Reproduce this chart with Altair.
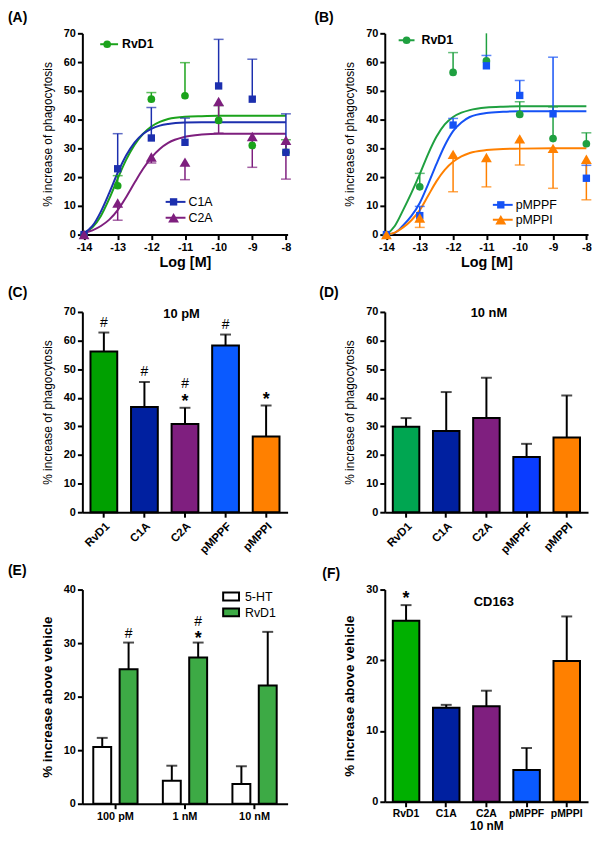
import altair as alt
import pandas as pd

FONT = "Liberation Sans"

# ---------------- Panels A and B : concentration-response ----------------
log_m = [-14, -13, -12, -11, -10, -9, -8]
fit_x = [-14, -13.75, -13.5, -13.25, -13, -12.75, -12.5, -12.25, -12,
         -11.75, -11.5, -11, -10.5, -10, -9, -8]

a_series = ["RvD1", "C1A", "C2A"]
a_colors = ["#1BA31B", "#1C2FAE", "#7E1F7E"]
a_shapes = ["circle", "square", "triangle-up"]
marker_sizes = [60, 55, 120]
a_dirs = [1, 1, -1]
a_rvd1 = [0, 17.0, 47.1, 48.3, 39.7, 31.0, 28.6]
a_rvd1_sem = [0, 3.5, 2.3, 11.5, 5.2, 0, 4.4]
a_c1a = [0, 22.9, 33.6, 32.1, 51.7, 47.1, 28.6]
a_c1a_sem = [0, 12.2, 10.6, 8.4, 16.2, 13.9, 13.4]
a_c2a = [0, 11.0, 27.0, 25.2, 46.3, 34.1, 32.8]
a_c2a_sem = [0, 6.0, 2.1, 6.1, 11.0, 10.7, 13.5]
a_fit_rvd1 = [0.5, 2.5, 6.5, 12.5, 19.5, 26, 31.2, 35, 37.6, 39.2, 40.2, 41, 41.2, 41.3, 41.3, 41.3]
a_fit_c1a = [0.5, 3, 8, 14.5, 21.5, 27.5, 32, 35, 36.8, 37.9, 38.5, 39, 39.1, 39.1, 39.1, 39.1]
a_fit_c2a = [0.5, 1.5, 3, 5.2, 8.5, 13, 18, 22.8, 26.8, 29.8, 31.9, 34, 34.8, 35.1, 35.1, 35.1]

b_series = ["RvD1", "pMPPF", "pMPPI"]
b_colors = ["#1FA040", "#1552F5", "#FF8000"]
b_shapes = ["circle", "square", "triangle-up"]
b_dirs = [1, 1, -1]
b_rvd1 = [0, 16.6, 56.4, 60.4, 41.8, 33.4, 31.6]
b_rvd1_sem = [0, 4.7, 6.9, 11.0, 4.4, 11.0, 3.8]
b_pmppf = [0, 6.6, 38.1, 58.7, 48.4, 42.0, 19.6]
b_pmppf_sem = [0, 3.2, 2.3, 3.6, 5.2, 19.7, 4.5]
b_pmppi = [0, 5.8, 27.9, 26.8, 33.3, 30.0, 26.2]
b_pmppi_sem = [0, 3.3, 13.0, 10.2, 9.1, 13.9, 14.1]
b_fit_rvd1 = [0, 3, 8.5, 14.5, 21, 28, 34, 38.3, 40.9, 42.4, 43.3, 44.2, 44.5, 44.6, 44.6, 44.6]
b_fit_pmppf = [0, 0.6, 3.2, 6.5, 11, 17.5, 24.5, 31, 36, 39, 40.9, 42.3, 42.7, 42.9, 42.9, 42.9]
b_fit_pmppi = [0, 0.7, 2.5, 5, 8.5, 13.5, 18.5, 22.5, 25.3, 27.2, 28.4, 29.4, 29.8, 29.9, 30, 30]

# ---------------- Panels C, D, F : single bars ----------------
agents = ["RvD1", "C1A", "C2A", "pMPPF", "pMPPI"]
c_colors = ["#00A000", "#0020A0", "#7F1F7F", "#0A5AFF", "#FF8000"]
d_colors = ["#00A651", "#0020A0", "#7F1F7F", "#0A3CFF", "#FF8000"]
f_colors = ["#00B000", "#0020A0", "#7F1F7F", "#0A5AFF", "#FF8000"]

c_vals = [56.2, 36.8, 30.8, 58.3, 26.5]
c_sem = [6.6, 8.7, 5.7, 3.8, 10.8]
c_hash = [1, 1, 1, 1, 0]
c_star = [0, 0, 1, 0, 1]

d_vals = [29.9, 28.4, 32.9, 19.3, 26.1]
d_sem = [3.0, 13.6, 14.1, 4.6, 14.7]
d_hash = [0, 0, 0, 0, 0]
d_star = [0, 0, 0, 0, 0]

f_vals = [25.6, 13.3, 13.5, 4.5, 19.9]
f_sem = [2.2, 0.4, 2.2, 3.1, 6.3]
f_hash = [0, 0, 0, 0, 0]
f_star = [1, 0, 0, 0, 0]

# ---------------- Panel E : grouped bars ----------------
e_conc = ["100 pM", "1 nM", "10 nM"]
e_series = ["5-HT", "RvD1"]
e_colors = ["#FFFFFF", "#3DAA45"]
e_5ht = [10.6, 4.3, 3.7]
e_5ht_sem = [1.7, 2.8, 3.3]
e_rvd1 = [25.1, 27.3, 22.1]
e_rvd1_sem = [5.0, 2.8, 10.0]
e_rvd1_hash = [1, 1, 0]
e_rvd1_star = [0, 1, 0]

ONE = pd.DataFrame({"k": [0]})


def std_axis(**kw):
    d = dict(domainColor="black", domainWidth=2, tickColor="black", tickWidth=2,
             tickSize=5, labelColor="black", labelFont=FONT, labelFontWeight="bold",
             labelFontSize=11, labelPadding=2, titleFont=FONT, titleColor="black",
             grid=False)
    d.update(kw)
    return alt.Axis(**d)


def text_at(txt, x, y, size, weight="bold", align="left", baseline="top"):
    return alt.Chart(ONE).mark_text(
        text=txt, font=FONT, fontSize=size, fontWeight=weight, align=align,
        baseline=baseline, color="black").encode(x=alt.value(x), y=alt.value(y))


def dose_panel(key, tag, tag_x, tag_y, series, colors, shapes, vals, sems, dirs, fits,
               legend, width, height):
    pts = pd.DataFrame([{key: s, "x": x, "y": v, "sem": e, "yend": v + d * e}
                        for s, vv, ee, d in zip(series, vals, sems, dirs)
                        for x, v, e in zip(log_m, vv, ee)])
    fit = pd.DataFrame([{key: s, "x": x, "y": v}
                        for s, ff in zip(series, fits) for x, v in zip(fit_x, ff)])
    xs = alt.Scale(domain=[-14.05, -7.95], nice=False, zero=False)
    ys = alt.Scale(domain=[0, 70], nice=False, clamp=True)
    xax = std_axis(values=log_m, labelExpr="'' + datum.value", title="Log [M]",
                   titleFontSize=14.5, titleFontWeight="bold", titlePadding=3)
    yax = std_axis(values=list(range(0, 71, 10)), title="% increase of phagocytosis",
                   titleFontSize=12, titleFontWeight="normal", titlePadding=9)
    X = alt.X("x:Q", scale=xs, axis=xax)

    def Y(f):
        return alt.Y(f + ":Q", scale=ys, axis=yax)

    color = alt.Color(key + ":N", scale=alt.Scale(domain=series, range=colors), legend=None)
    shape = alt.Shape(key + ":N", scale=alt.Scale(domain=series, range=shapes), legend=None)
    size = alt.Size(key + ":N", scale=alt.Scale(type="ordinal", domain=series,
                                                range=marker_sizes), legend=None)
    curves = alt.Chart(fit).mark_line(strokeWidth=2, interpolate="monotone").encode(
        x=X, y=Y("y"), color=color)
    errs = alt.Chart(pts).transform_filter("datum.sem > 0").mark_rule(strokeWidth=1.5).encode(
        x=X, y=Y("y"), y2="yend:Q", color=color)
    caps = alt.Chart(pts).transform_filter("datum.sem > 0 && datum.yend <= 70").mark_tick(
        orient="horizontal", size=10, thickness=1.5).encode(x=X, y=Y("yend"), color=color)
    marks = alt.Chart(pts).mark_point(filled=True, opacity=1).encode(
        x=X, y=Y("y"), color=color, shape=shape, size=size)
    leg = []
    for name, col, shp, msize, x1, x2, xm, xt, yy, bold in legend:
        leg.append(alt.Chart(ONE).mark_rule(color=col, strokeWidth=2).encode(
            x=alt.value(x1), x2=alt.value(x2), y=alt.value(yy)))
        leg.append(alt.Chart(ONE).mark_point(shape=shp, filled=True, opacity=1, size=msize,
                                             color=col).encode(x=alt.value(xm), y=alt.value(yy)))
        leg.append(text_at(name, xt, yy, 12.5, "bold" if bold else "normal", "left", "middle"))
    tagm = text_at(tag, tag_x, tag_y, 14)
    return alt.layer(curves, errs, caps, marks, *leg, tagm).properties(width=width, height=height)


def annotation_layers(df, X, Y, extra, hash_dy, hash_star_dy, star_dy):
    star = alt.Chart(df).transform_filter("datum.star == 1").mark_text(
        text="*", font=FONT, fontSize=18, fontWeight="bold", baseline="alphabetic",
        dy=star_dy, color="black").encode(x=X, y=Y("cap"), **extra)
    hash1 = alt.Chart(df).transform_filter("datum.hash == 1 && datum.star == 0").mark_text(
        text="#", font=FONT, fontSize=14, baseline="alphabetic", dy=hash_dy,
        color="black").encode(x=X, y=Y("cap"), **extra)
    hash2 = alt.Chart(df).transform_filter("datum.hash == 1 && datum.star == 1").mark_text(
        text="#", font=FONT, fontSize=14, baseline="alphabetic", dy=hash_star_dy,
        color="black").encode(x=X, y=Y("cap"), **extra)
    return [star, hash1, hash2]


def bar_panel(key, tag, tag_x, tag_y, vals, sems, colors, hashes, stars, ymax, ytitle,
              ytitle_size, ytitle_weight, ytitle_pad, width, height, rotate,
              header, hx, hy, xtitle=None):
    df = pd.DataFrame({key: agents, "val": vals, "sem": sems, "hash": hashes, "star": stars})
    df["cap"] = df["val"] + df["sem"]
    xs = alt.Scale(domain=agents, paddingInner=0.34, paddingOuter=0.2)
    ys = alt.Scale(domain=[0, ymax], nice=False)
    xkw = dict(title=xtitle)
    if rotate:
        xkw.update(labelAngle=-45, labelFontSize=11.5, labelPadding=3)
    else:
        xkw.update(labelAngle=0, labelFontSize=10.5, titleFontSize=12,
                   titleFontWeight="bold", titlePadding=1)
    xax = std_axis(**xkw)
    yax = std_axis(values=list(range(0, ymax + 1, 10)), title=ytitle, titleFontSize=ytitle_size,
                   titleFontWeight=ytitle_weight, titlePadding=ytitle_pad)
    X = alt.X(key + ":N", sort=agents, scale=xs, axis=xax)

    def Y(f):
        return alt.Y(f + ":Q", scale=ys, axis=yax)

    color = alt.Color(key + ":N", scale=alt.Scale(domain=agents, range=colors), legend=None)
    bars = alt.Chart(df).mark_bar(stroke="black", strokeWidth=2, opacity=1).encode(
        x=X, y=Y("val"), color=color)
    errs = alt.Chart(df).mark_rule(color="black", strokeWidth=2).encode(
        x=X, y=Y("val"), y2="cap:Q")
    caps = alt.Chart(df).mark_tick(color="black", thickness=2, size=11, orient="horizontal").encode(
        x=X, y=Y("cap"))
    ann = annotation_layers(df, X, Y, {}, -6, -20, -1)
    layers = [bars, errs, caps] + ann
    layers.append(text_at(header, hx, hy, 13, "bold", "center", "middle"))
    layers.append(text_at(tag, tag_x, tag_y, 14))
    return alt.layer(*layers).properties(width=width, height=height)


LEFT_W, RIGHT_W = 207, 205

A = dose_panel("seriesA", "(A)", -75, -22, a_series, a_colors, a_shapes,
               [a_rvd1, a_c1a, a_c2a], [a_rvd1_sem, a_c1a_sem, a_c2a_sem], a_dirs,
               [a_fit_rvd1, a_fit_c1a, a_fit_c2a],
               [("RvD1", a_colors[0], "circle", 60, 18, 36, 25, 40, 11, True),
                ("C1A", a_colors[1], "square", 55, 84, 104, 92, 107, 170, False),
                ("C2A", a_colors[2], "triangle-up", 120, 84, 104, 92, 107, 186, False)],
               LEFT_W, 203)

B = dose_panel("seriesB", "(B)", -71, -22, b_series, b_colors, b_shapes,
               [b_rvd1, b_pmppf, b_pmppi], [b_rvd1_sem, b_pmppf_sem, b_pmppi_sem], b_dirs,
               [b_fit_rvd1, b_fit_pmppf, b_fit_pmppi],
               [("RvD1", b_colors[0], "circle", 60, 14, 30, 22, 37, 7, True),
                ("pMPPF", b_colors[1], "square", 55, 109, 129, 117, 132, 173, False),
                ("pMPPI", b_colors[2], "triangle-up", 120, 109, 129, 117, 132, 188, False)],
               RIGHT_W, 203)

C = bar_panel("agentC", "(C)", -75, -26, c_vals, c_sem, c_colors, c_hash, c_star, 70,
              "% increase of phagocytosis", 12, "normal", 9, LEFT_W, 202, True,
              "10 pM", 100, 2)

D = bar_panel("agentD", "(D)", -66, -26, d_vals, d_sem, d_colors, d_hash, d_star, 70,
              "% increase of phagocytosis", 12, "normal", 9, RIGHT_W, 202, True,
              "10 nM", 105, 1)

F = bar_panel("agentF", "(F)", -63, -23, f_vals, f_sem, f_colors, f_hash, f_star, 30,
              "% increase above vehicle", 13.5, "bold", 9, RIGHT_W, 214, False,
              "CD163", 110, 13, xtitle="10 nM")

# ---- Panel E ----
e_df = pd.DataFrame({
    "conc": e_conc * 2,
    "treatE": [e_series[0]] * 3 + [e_series[1]] * 3,
    "val": e_5ht + e_rvd1,
    "sem": e_5ht_sem + e_rvd1_sem,
    "hash": [0, 0, 0] + e_rvd1_hash,
    "star": [0, 0, 0] + e_rvd1_star,
})
e_df["cap"] = e_df["val"] + e_df["sem"]
e_xs = alt.Scale(domain=e_conc, paddingInner=0.25, paddingOuter=0.1)
e_ys = alt.Scale(domain=[0, 40], nice=False)
e_xax = std_axis(title=None, labelAngle=0, labelFontSize=11)
e_yax = std_axis(values=[0, 10, 20, 30, 40], title="% increase above vehicle",
                 titleFontSize=13.5, titleFontWeight="bold", titlePadding=9)
EX = alt.X("conc:N", sort=e_conc, scale=e_xs, axis=e_xax)
EXO = alt.XOffset("treatE:N", sort=e_series,
                  scale=alt.Scale(domain=e_series, paddingInner=0.32, paddingOuter=0.15))


def EY(f):
    return alt.Y(f + ":Q", scale=e_ys, axis=e_yax)


e_color = alt.Color("treatE:N", scale=alt.Scale(domain=e_series, range=e_colors), legend=None)
e_bars = alt.Chart(e_df).mark_bar(stroke="black", strokeWidth=2, opacity=1).encode(
    x=EX, xOffset=EXO, y=EY("val"), color=e_color)
e_errs = alt.Chart(e_df).mark_rule(color="black", strokeWidth=2).encode(
    x=EX, xOffset=EXO, y=EY("val"), y2="cap:Q")
e_caps = alt.Chart(e_df).mark_tick(color="black", thickness=2, size=11, orient="horizontal").encode(
    x=EX, xOffset=EXO, y=EY("cap"))
e_ann = annotation_layers(e_df, EX, EY, {"xOffset": EXO}, -5, -17, 1)
e_leg = []
for i, (name, col) in enumerate(zip(e_series, e_colors)):
    y0 = 3 + 16 * i
    e_leg.append(alt.Chart(ONE).mark_rect(fill=col, stroke="black", strokeWidth=2).encode(
        x=alt.value(142), x2=alt.value(158), y=alt.value(y0), y2=alt.value(y0 + 8)))
    e_leg.append(text_at(name, 164, y0 + 4.5, 12.5, "normal", "left", "middle"))
E = alt.layer(e_bars, e_errs, e_caps, *e_ann, *e_leg,
              text_at("(E)", -75, -26, 14)).properties(width=LEFT_W, height=216)

chart = alt.concat(A, B, C, D, E, F, columns=2, spacing={"row": 78, "column": 98},
                   bounds="flush").resolve_scale(
    color="independent", shape="independent", size="independent"
).properties(padding=0).configure_view(stroke=None)

chart.save("out.html", embed_options={"renderer": "svg", "actions": False})
